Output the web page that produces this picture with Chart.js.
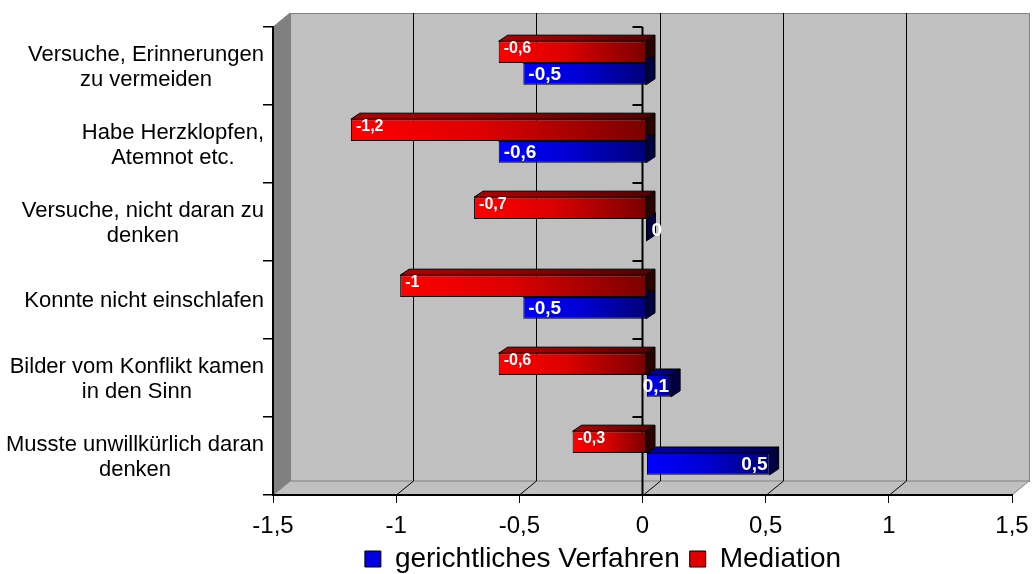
<!DOCTYPE html>
<html>
<head>
<meta charset="utf-8">
<script src="https://cdn.jsdelivr.net/npm/chart.js@4"></script>
<style>
  body { margin: 0; background: #fff; }
  #wrap { width: 1033px; height: 574px; }
</style>
</head>
<body>
<div id="wrap"><canvas id="chart"></canvas></div>
<script>
// data
var categories = [
  ['Versuche, Erinnerungen', 'zu vermeiden'],
  ['Habe Herzklopfen,', 'Atemnot etc.'],
  ['Versuche, nicht daran zu', 'denken'],
  ['Konnte nicht einschlafen'],
  ['Bilder vom Konflikt kamen', 'in den Sinn'],
  ['Musste unwillkürlich daran', 'denken']
];
var mediation = [-0.6, -1.2, -0.7, -1, -0.6, -0.3];
var gericht = [-0.5, -0.6, 0, -0.5, 0.1, 0.5];
var xTicks = [-1.5, -1, -0.5, 0, 0.5, 1, 1.5];

var FONT = "Arial, 'Liberation Sans', sans-serif";
// 3d look
var WALL_DX = 17, WALL_DY = -14;   // back wall offset
var BAR_DX = 4, BAR_DY = -3;       // bars sit a bit inside
var DEPTH_DX = 9, DEPTH_DY = -6;   // bar depth
var LEGEND_SHIFT = 9;

function comma(v) { return String(v).replace('.', ','); }

function barFill(stops, solid) {
  return function(c) {
    if (c.type !== 'data' || typeof c.raw !== 'number') return solid;
    var chart = c.chart, xs = chart.scales.x;
    if (!xs || !chart.chartArea) return solid;
    var p0 = xs.getPixelForValue(0), p1 = xs.getPixelForValue(c.raw);
    var l = Math.min(p0, p1), r = Math.max(p0, p1);
    if (r - l < 2) return stops[stops.length - 1];
    var g = chart.ctx.createLinearGradient(l, 0, r, 0);
    g.addColorStop(0, stops[0]);
    g.addColorStop(0.45, stops[1]);
    g.addColorStop(1, stops[2]);
    return g;
  };
}

var redStops = ['#ff0000', '#dd0000', '#7a0000'];
var blueStops = ['#0000ff', '#0000d6', '#000078'];
var redDepth = { top: ['#b00000', '#900000', '#500000'], side: '#2a0000' };
var blueDepth = { top: ['#0000b0', '#000090', '#000050'], side: '#000040' };
var legendFill = { 'Mediation': '#e00000', 'gerichtliches Verfahren': '#0000e0' };

var wallPlugin = {
  id: 'walls',
  afterLayout: function(chart) {
    // legend sits a little lower than chart.js puts it
    if (chart.legend) {
      chart.legend.top += LEGEND_SHIFT;
      chart.legend.bottom += LEGEND_SHIFT;
    }
    // let the x tick labels use the room down to the canvas edge
    chart.scales.x.bottom = chart.height;
  },
  beforeDraw: function(chart) {
    var ctx = chart.ctx, a = chart.chartArea, xs = chart.scales.x;
    ctx.save();
    // back wall
    ctx.fillStyle = '#c0c0c0';
    ctx.strokeStyle = '#808080';
    ctx.lineWidth = 1;
    ctx.fillRect(a.left + WALL_DX, a.top + WALL_DY, a.width, a.height);
    ctx.strokeRect(a.left + WALL_DX + 0.5, a.top + WALL_DY + 0.5, a.width, a.height);
    // floor
    ctx.beginPath();
    ctx.moveTo(a.left, a.bottom);
    ctx.lineTo(a.left + WALL_DX, a.bottom + WALL_DY);
    ctx.lineTo(a.right + WALL_DX, a.bottom + WALL_DY);
    ctx.lineTo(a.right, a.bottom);
    ctx.closePath();
    ctx.fill();
    ctx.stroke();
    // left side wall
    ctx.fillStyle = '#808080';
    ctx.beginPath();
    ctx.moveTo(a.left, a.top);
    ctx.lineTo(a.left + WALL_DX, a.top + WALL_DY);
    ctx.lineTo(a.left + WALL_DX, a.bottom + WALL_DY);
    ctx.lineTo(a.left, a.bottom);
    ctx.closePath();
    ctx.fill();
    ctx.stroke();
    // grid on back wall and floor
    ctx.strokeStyle = '#000';
    xTicks.forEach(function(v, i) {
      if (i === 0 || i === xTicks.length - 1) return;
      var x = Math.round(xs.getPixelForValue(v)) + 0.5;
      ctx.beginPath();
      ctx.moveTo(x + WALL_DX, a.top + WALL_DY);
      ctx.lineTo(x + WALL_DX, a.bottom + WALL_DY);
      ctx.lineTo(x, a.bottom);
      ctx.stroke();
    });
    ctx.restore();
  },
  beforeDatasetsDraw: function(chart) {
    var ctx = chart.ctx, a = chart.chartArea, xs = chart.scales.x, ys = chart.scales.y;
    ctx.save();
    // zero axis with its ticks
    var x0 = xs.getPixelForValue(0);
    ctx.strokeStyle = '#000';
    ctx.lineWidth = 2;
    ctx.beginPath();
    ctx.moveTo(x0, a.top);
    ctx.lineTo(x0, a.bottom);
    ctx.stroke();
    for (var i = 0; i <= categories.length; i++) {
      var y = ys.getPixelForValue(i - 0.5);
      ctx.beginPath();
      ctx.moveTo(x0 - 10, y);
      ctx.lineTo(x0, y);
      ctx.stroke();
    }
    ctx.restore();

    // bar depth faces (drawn before the front faces)
    ctx.save();
    ctx.translate(BAR_DX, BAR_DY);
    ctx.lineWidth = 1;
    ctx.strokeStyle = '#000';
    chart.data.datasets.forEach(function(ds, di) {
      var meta = chart.getDatasetMeta(di);
      var look = di === 0 ? redDepth : blueDepth;
      meta.data.forEach(function(el) {
        var l = Math.min(el.x, el.base), r = Math.max(el.x, el.base);
        var t = el.y - el.height / 2, b = el.y + el.height / 2;
        // top
        var g = ctx.createLinearGradient(l, 0, r + DEPTH_DX, 0);
        g.addColorStop(0, look.top[0]);
        g.addColorStop(0.45, look.top[1]);
        g.addColorStop(1, look.top[2]);
        ctx.fillStyle = g;
        ctx.beginPath();
        ctx.moveTo(l, t);
        ctx.lineTo(l + DEPTH_DX, t + DEPTH_DY);
        ctx.lineTo(r + DEPTH_DX, t + DEPTH_DY);
        ctx.lineTo(r, t);
        ctx.closePath();
        ctx.fill();
        ctx.stroke();
        // right side
        ctx.fillStyle = look.side;
        ctx.beginPath();
        ctx.moveTo(r, t);
        ctx.lineTo(r + DEPTH_DX, t + DEPTH_DY);
        ctx.lineTo(r + DEPTH_DX, b + DEPTH_DY);
        ctx.lineTo(r, b);
        ctx.closePath();
        ctx.fill();
        ctx.stroke();
      });
    });
    // keep the translation for the front faces, undone after datasets
  },
  afterDatasetsDraw: function(chart) {
    var ctx = chart.ctx;
    ctx.restore();
    // value labels
    ctx.save();
    ctx.fillStyle = '#fff';
    ctx.textBaseline = 'middle';
    chart.data.datasets.forEach(function(ds, di) {
      var meta = chart.getDatasetMeta(di);
      ctx.font = (di === 0 ? 'bold 16px ' : 'bold 19px ') + FONT;
      meta.data.forEach(function(el, i) {
        var v = ds.data[i];
        var l = Math.min(el.x, el.base) + BAR_DX, r = Math.max(el.x, el.base) + BAR_DX;
        var y = el.y + BAR_DY + (di === 0 ? -3 : 1);
        if (v < 0) {
          ctx.textAlign = 'left';
          ctx.fillText(comma(v), l + 5, y);
        } else if (v === 0) {
          ctx.textAlign = 'left';
          ctx.fillText(comma(v), r + 5, y);
        } else {
          ctx.textAlign = 'right';
          ctx.fillText(comma(v), r - 2, y);
        }
      });
    });
    ctx.restore();
  },
  afterDraw: function(chart) {
    // category labels: block right aligned, lines centred inside
    var ctx = chart.ctx, ys = chart.scales.y;
    ctx.save();
    ctx.fillStyle = '#000';
    ctx.font = '22px ' + FONT;
    ctx.textAlign = 'center';
    ctx.textBaseline = 'middle';
    var lineH = 25, right = 264;
    categories.forEach(function(lines, i) {
      var w = 0;
      lines.forEach(function(s) { w = Math.max(w, ctx.measureText(s).width); });
      var cx = right - w / 2;
      var cy = ys.getPixelForTick(i) + 1;
      lines.forEach(function(s, k) {
        ctx.fillText(s, cx, cy + (k - (lines.length - 1) / 2) * lineH);
      });
    });
    ctx.restore();
  }
};

var ctx = document.getElementById('chart').getContext('2d');
var chart = new Chart(ctx, {
  type: 'bar',
  data: {
    labels: categories,
    datasets: [
      {
        label: 'Mediation',
        data: mediation,
        backgroundColor: barFill(redStops, '#e00000'),
        borderColor: '#000',
        borderWidth: 1,
        borderSkipped: false
      },
      {
        label: 'gerichtliches Verfahren',
        data: gericht,
        backgroundColor: barFill(blueStops, '#0000e0'),
        borderColor: '#000',
        borderWidth: 1,
        borderSkipped: false
      }
    ]
  },
  options: {
    indexAxis: 'y',
    responsive: true,
    maintainAspectRatio: false,
    animation: false,
    events: [],
    categoryPercentage: 0.56,
    barPercentage: 1,
    layout: { padding: { left: 194, right: 21, top: 27, bottom: 0 } },
    scales: {
      x: {
        min: -1.5,
        max: 1.5,
        afterBuildTicks: function(scale) {
          scale.ticks = xTicks.map(function(v) { return { value: v }; });
        },
        afterFit: function(scale) {
          var lg = scale.chart.legend ? scale.chart.legend.height : 0;
          scale.height = 574 - 495 - lg;
          // the layout padding already leaves room for the end labels
          scale.paddingLeft = 0;
          scale.paddingRight = 0;
        },
        grid: { drawOnChartArea: false, tickLength: 8, color: '#000', lineWidth: 1 },
        border: { color: '#000', width: 2 },
        ticks: {
          color: '#000',
          font: { family: FONT, size: 24 },
          padding: 9,
          maxRotation: 0,
          callback: function(v) { return comma(v); }
        }
      },
      y: {
        offset: true,
        afterFit: function(scale) { scale.width = 273 - 194; },
        grid: { offset: true, drawOnChartArea: false, tickLength: 10, color: '#000', lineWidth: 1.5 },
        border: { color: '#000', width: 2 },
        ticks: { display: false }
      }
    },
    plugins: {
      tooltip: { enabled: false },
      legend: {
        position: 'bottom',
        reverse: true,
        labels: {
          color: '#000',
          font: { family: FONT, size: 28 },
          boxWidth: 16,
          boxHeight: 16,
          padding: 10,
          generateLabels: function(chart) {
            var items = Chart.defaults.plugins.legend.labels.generateLabels(chart);
            items.forEach(function(it) { it.fillStyle = legendFill[it.text]; it.strokeStyle = '#000'; it.lineWidth = 1; });
            return items;
          }
        }
      }
    }
  },
  plugins: [wallPlugin]
});
</script>
</body>
</html>
